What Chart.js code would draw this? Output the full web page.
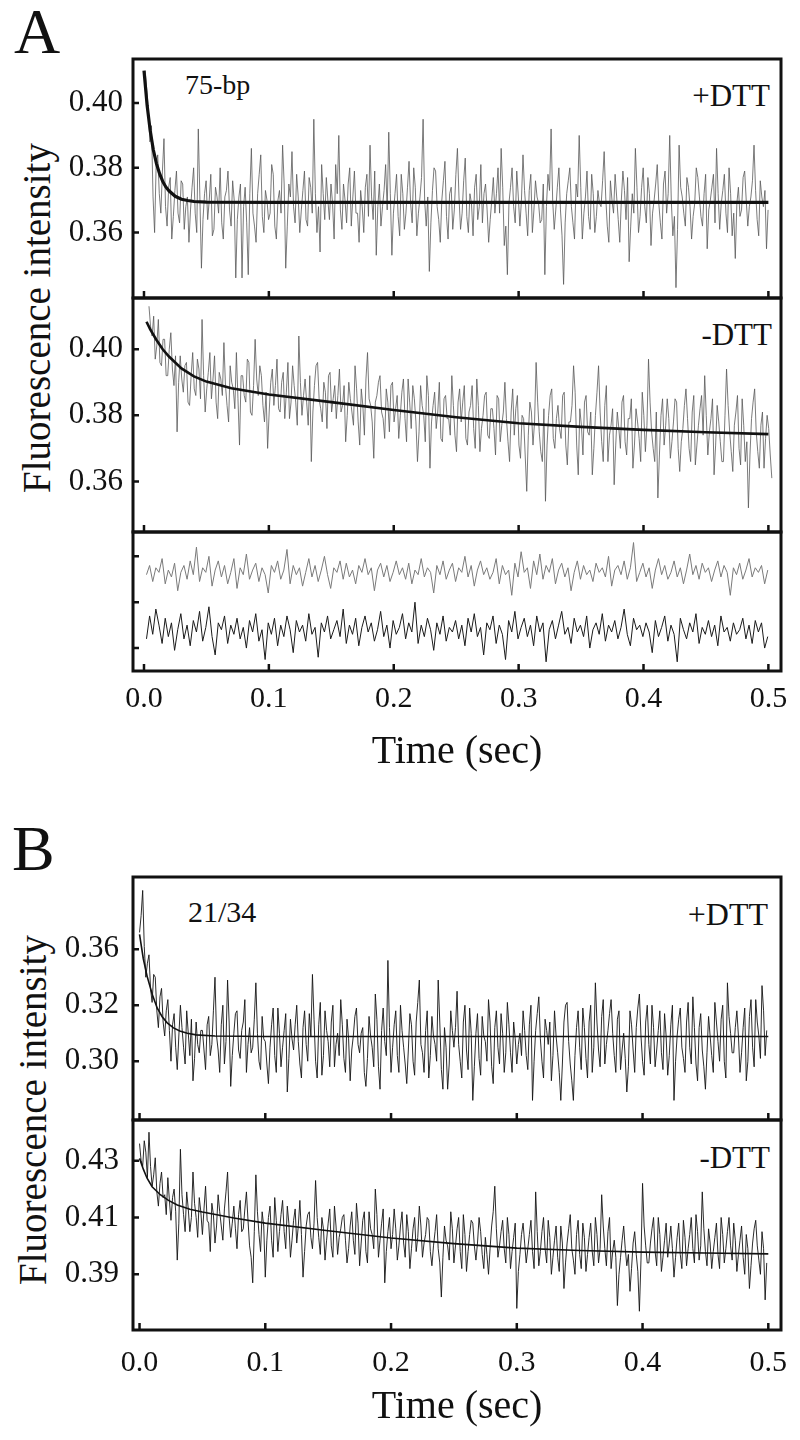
<!DOCTYPE html>
<html>
<head>
<meta charset="utf-8">
<title>Fluorescence traces</title>
<script src="https://cdn.jsdelivr.net/npm/chart.js@4.4.0/dist/chart.umd.min.js"></script>
<style>
  body { margin: 0; background: #fff; }
  #page { position: relative; width: 800px; height: 1440px; overflow: hidden;
          font-family: "Liberation Serif", "Times New Roman", serif; color: #111; }
  canvas { position: absolute; left: 0; }
  .txt { position: absolute; line-height: 1; white-space: nowrap; }
  .panel { font-size: 64px; }
  .ylab { position: absolute; line-height: 1; white-space: nowrap; font-size: 39px;
          transform: translate(-50%, -50%) rotate(-90deg); }
</style>
</head>
<body>
<div id="page">
  <div class="txt panel" style="left:14px;top:0px">A</div>
  <div class="txt panel" style="left:12px;top:817px">B</div>
  <div class="ylab" style="left:36px;top:318px">Fluorescence intensity</div>
  <div class="ylab" style="left:32px;top:1110px">Fluorescence intensity</div>
  <div class="txt" style="left:185px;top:71px;font-size:28px">75-bp</div>
  <div class="txt" style="right:30px;top:80px;font-size:31px">+DTT</div>
  <div class="txt" style="right:28px;top:319px;font-size:31px">-DTT</div>
  <div class="txt" style="left:188px;top:897px;font-size:30px">21/34</div>
  <div class="txt" style="right:32px;top:898px;font-size:32px">+DTT</div>
  <div class="txt" style="right:30px;top:1142px;font-size:31px">-DTT</div>

  <canvas id="cA1" width="800" height="300" style="top:0px"></canvas>
  <canvas id="cA2" width="800" height="250" style="top:290px"></canvas>
  <canvas id="cA3" width="800" height="260" style="top:524px"></canvas>
  <canvas id="cB1" width="800" height="270" style="top:860px"></canvas>
  <canvas id="cB2" width="800" height="328" style="top:1112px"></canvas>
</div>

<script>
// sampling steps of the recorded traces (s)
const dtTrace = 0.00125;
const dtRes = 0.0025;

const xTicks = [0, 0.1, 0.2, 0.3, 0.4, 0.5];
const xTickLabels = ['0.0', '0.1', '0.2', '0.3', '0.4', '0.5'];

const yTicksA = [0.36, 0.38, 0.40];
const yLabelsA = ['0.36', '0.38', '0.40'];
const yTicksRes = [-2, -1, 0, 1, 2];
const yLabelsRes = ['', '', '', '', ''];
const yTicksB1 = [0.30, 0.32, 0.34];
const yLabelsB1 = ['0.30', '0.32', '0.36'];
const yTicksB2 = [0.39, 0.41, 0.43];
const yLabelsB2 = ['0.39', '0.41', '0.43'];

// ---- Panel A, 75-bp (values in 1e-3 units) ----
const a1Start = 0.001;
const a1Trace = [
  410, 404, 398, 388, 393, 371, 360, 381, 384, 372, 366, 379, 389, 368, 362, 374, 377, 358, 365, 373,
  379, 366, 363, 376, 375, 361, 368, 371, 357, 367, 374, 380, 366, 360, 392, 371, 349, 364, 372, 376,
  364, 370, 378, 359, 361, 374, 371, 366, 380, 363, 358, 371, 373, 379, 367, 362, 376, 370, 346, 364,
  371, 375, 346, 368, 374, 363, 347, 372, 386, 366, 362, 357, 372, 378, 384, 365, 360, 373, 370, 364,
  366, 381, 378, 362, 358, 370, 373, 366, 387, 375, 349, 362, 375, 371, 385, 368, 363, 378, 371, 360,
  367, 373, 379, 364, 362, 377, 374, 366, 395, 372, 360, 368, 354, 381, 372, 364, 377, 370, 364, 375,
  369, 358, 381, 372, 390, 367, 361, 375, 370, 363, 375, 380, 362, 371, 379, 366, 366, 357, 373, 368,
  360, 374, 378, 365, 387, 371, 364, 379, 353, 368, 375, 362, 368, 373, 381, 367, 391, 372, 353, 366,
  372, 378, 365, 359, 378, 372, 361, 366, 374, 382, 369, 363, 380, 374, 359, 366, 371, 377, 395, 370,
  362, 371, 348, 363, 373, 380, 379, 368, 364, 357, 370, 376, 382, 365, 358, 372, 374, 361, 367, 378,
  386, 371, 361, 366, 376, 383, 365, 360, 372, 369, 359, 374, 378, 364, 368, 381, 363, 372, 375, 367,
  357, 364, 370, 377, 366, 372, 380, 366, 386, 374, 356, 362, 347, 369, 374, 380, 368, 363, 379, 371,
  362, 370, 384, 373, 366, 359, 373, 378, 360, 367, 376, 371, 369, 363, 364, 375, 347, 368, 378, 373,
  392, 370, 361, 367, 374, 380, 367, 359, 344, 363, 372, 376, 380, 368, 363, 358, 375, 371, 390, 374,
  358, 366, 371, 379, 365, 361, 378, 372, 360, 365, 373, 369, 368, 376, 385, 371, 362, 357, 376, 370,
  366, 378, 371, 364, 357, 370, 379, 373, 364, 377, 351, 362, 372, 366, 386, 374, 360, 365, 374, 380,
  368, 363, 377, 372, 356, 366, 370, 375, 381, 369, 363, 358, 375, 379, 366, 372, 390, 370, 359, 365,
  343, 361, 387, 374, 371, 366, 362, 377, 374, 368, 358, 365, 369, 380, 377, 371, 365, 362, 372, 378,
  355, 367, 370, 374, 378, 363, 386, 372, 361, 369, 373, 378, 366, 360, 380, 372, 359, 366, 352, 369,
  374, 365, 367, 377, 379, 370, 362, 368, 371, 376, 387, 373, 364, 359, 376, 371, 368, 373, 355, 367
];
const a1FitT = [0, 0.0025, 0.005, 0.0075, 0.01, 0.0125, 0.015, 0.0175, 0.02, 0.025, 0.03, 0.035, 0.04, 0.05, 0.1, 0.2, 0.3, 0.4, 0.5];
const a1FitY = [410, 399.3, 391.4, 385.5, 381.3, 378.2, 375.8, 374.1, 372.9, 371.2, 370.3, 369.9, 369.6, 369.4, 369.3, 369.3, 369.3, 369.3, 369.3];

const a2Start = 0.004;
const a2Trace = [
  413, 407, 404, 410, 397, 401, 409, 396, 395, 403, 403, 392, 392, 400, 405, 394, 389, 398, 375, 390,
  398, 391, 387, 395, 396, 384, 383, 392, 399, 388, 386, 397, 394, 385, 409, 392, 381, 388, 393, 399,
  385, 391, 398, 384, 379, 393, 391, 386, 402, 389, 383, 378, 395, 390, 388, 382, 399, 385, 371, 392,
  392, 386, 384, 397, 396, 381, 380, 389, 403, 391, 386, 395, 392, 383, 378, 387, 370, 381, 390, 394,
  383, 389, 397, 382, 381, 390, 393, 379, 387, 396, 379, 384, 395, 389, 384, 377, 404, 390, 380, 386,
  391, 384, 377, 392, 366, 381, 389, 395, 396, 385, 382, 378, 390, 387, 376, 392, 393, 381, 385, 389,
  379, 386, 394, 381, 383, 389, 372, 380, 390, 385, 381, 377, 395, 388, 378, 371, 388, 383, 374, 391,
  399, 385, 383, 378, 367, 384, 386, 390, 392, 381, 379, 373, 388, 384, 375, 389, 390, 378, 382, 386,
  373, 380, 387, 391, 379, 372, 391, 384, 376, 389, 385, 378, 366, 375, 389, 383, 380, 372, 392, 386,
  364, 378, 383, 387, 376, 381, 390, 373, 372, 385, 386, 379, 379, 374, 392, 383, 374, 369, 384, 388,
  378, 384, 389, 373, 371, 381, 383, 389, 376, 370, 391, 383, 369, 376, 380, 386, 387, 374, 373, 382,
  382, 376, 368, 386, 385, 372, 377, 381, 390, 379, 372, 366, 381, 388, 374, 382, 386, 371, 367, 380,
  379, 368, 357, 374, 384, 381, 371, 378, 396, 384, 375, 369, 366, 382, 354, 371, 380, 386, 388, 373,
  370, 379, 383, 376, 373, 386, 387, 371, 365, 378, 378, 383, 395, 387, 371, 362, 382, 377, 368, 384,
  386, 375, 374, 381, 362, 370, 380, 387, 395, 381, 372, 366, 383, 389, 366, 374, 377, 382, 359, 371,
  381, 376, 370, 384, 386, 372, 368, 379, 379, 385, 364, 371, 382, 378, 373, 366, 387, 380, 369, 377,
  397, 384, 375, 370, 366, 381, 355, 368, 380, 385, 371, 377, 385, 379, 367, 372, 378, 385, 384, 370,
  363, 372, 376, 383, 388, 379, 370, 366, 381, 386, 365, 371, 377, 382, 386, 374, 392, 380, 368, 375,
  379, 385, 362, 371, 383, 378, 372, 366, 366, 380, 394, 383, 375, 369, 363, 377, 381, 386, 370, 365,
  385, 377, 366, 372, 352, 368, 379, 384, 388, 375, 369, 364, 377, 381, 364, 373, 380, 376, 368, 361
];
const a2FitT = [0.002, 0.005, 0.01, 0.015, 0.02, 0.03, 0.04, 0.05, 0.07, 0.1, 0.15, 0.2, 0.25, 0.3, 0.35, 0.4, 0.45, 0.5];
const a2FitY = [408.3, 406, 402.8, 400, 397.8, 394.2, 391.8, 390.2, 388.2, 386.3, 384, 381.6, 379.4, 377.6, 376.5, 375.6, 374.9, 374.3];

// residuals (arbitrary units, offset traces)
const resStart = 0.002;
const resPlus = [
  1.2, 1.6, 0.9, 1.5, 1.3, 1.9, 0.8, 1.4, 1.1, 1.7, 0.5, 1.3, 1.6, 1.0, 1.8, 1.2, 2.4, 0.9, 1.5, 1.3,
  2.0, 0.7, 1.4, 1.8, 1.1, 1.6, 0.8, 1.3, 1.9, 0.6, 1.5, 1.2, 2.1, 1.0, 1.4, 1.7, 0.9, 1.5, 1.2, 0.4,
  1.6, 1.3, 1.8, 1.0, 1.4, 2.3, 0.8, 1.6, 1.2, 1.5, 0.7, 1.3, 1.9, 1.1, 1.6, 0.9, 1.4, 2.0, 1.2, 0.6,
  1.5, 1.3, 1.8, 1.0, 1.7, 1.1, 1.4, 0.8, 1.6, 1.3, 1.9, 1.2, 1.5, 0.5, 1.4, 1.7, 1.1, 1.6, 0.9, 1.3,
  1.8, 1.2, 1.5, 1.0, 1.7, 0.8, 1.4, 1.2, 1.9, 1.1, 1.5, 1.3, 0.4, 1.6, 1.2, 1.8, 1.0, 1.4, 1.7, 0.9,
  1.5, 1.3, 2.0, 1.1, 1.6, 0.7, 1.4, 1.8, 1.2, 1.5, 1.0, 1.3, 1.9, 0.8, 1.6, 1.2, 1.4, 0.3, 1.7, 1.1,
  2.2, 1.3, 1.5, 0.6, 1.8, 1.2, 2.1, 1.0, 1.6, 1.3, 1.9, 0.8, 1.4, 1.7, 1.1, 1.5, 0.5, 1.3, 1.8, 1.0,
  1.6, 1.2, 1.4, 0.9, 1.7, 1.3, 1.5, 1.1, 2.0, 0.7, 1.4, 1.6, 1.2, 1.8, 1.0, 1.5, 2.6, 0.9, 1.3, 1.7,
  1.1, 1.5, 0.6, 1.4, 1.9, 1.2, 1.6, 1.0, 1.3, 1.8, 1.1, 1.5, 0.8, 1.4, 2.1, 1.2, 1.6, 1.0, 1.7, 1.3,
  1.5, 0.9, 1.4, 1.8, 1.1, 1.6, 1.3, 0.3, 1.5, 1.2, 1.7, 1.0, 1.4, 1.9, 1.1, 1.5, 1.3, 1.6, 0.8, 1.4
];
const resMinus = [
  -1.6, -0.6, -1.4, -0.3, -1.0, -1.8, -0.7, -1.5, -0.9, -2.1, -1.2, -0.5, -1.6, -1.0, -1.9, -0.8, -1.3, -0.4, -1.7, -1.1,
  -0.2, -1.5, -2.3, -0.9, -1.2, -0.6, -1.8, -1.0, -1.4, -0.7, -1.6, -1.1, -2.0, -0.8, -1.3, -0.5, -1.7, -1.2, -2.5, -0.9,
  -1.4, -0.7, -1.9, -1.0, -1.5, -0.6, -1.2, -2.2, -0.8, -1.3, -1.0, -1.7, -0.5, -1.4, -1.1, -2.4, -0.9, -1.3, -0.6, -1.6,
  -1.2, -0.8, -1.5, -0.3, -1.8, -1.0, -1.4, -0.7, -1.9, -1.1, -0.6, -1.3, -0.9, -1.7, -1.2, -0.4, -1.5, -1.0, -2.0, -0.8,
  -1.4, -1.1, -0.5, -1.6, -0.9, -1.3, 0.0, -1.8, -1.0, -1.5, -0.7, -1.2, -2.1, -0.9, -1.4, -0.6, -1.7, -1.1, -1.3, -0.8,
  -1.6, -1.0, -1.9, -0.7, -1.3, -0.5, -1.5, -1.1, -2.3, -0.9, -1.2, -0.6, -1.8, -1.0, -1.4, -2.5, -0.8, -1.3, -0.4, -1.6,
  -1.1, -0.7, -1.5, -1.0, -1.9, -0.6, -1.3, -0.9, -2.6, -1.2, -0.8, -1.6, -1.0, -0.4, -1.4, -1.1, -1.8, -0.7, -1.3, -1.0,
  -1.5, -0.6, -2.0, -1.2, -0.9, -1.4, -0.5, -1.7, -1.0, -1.3, -0.8, -1.6, -1.1, -0.3, -1.4, -1.9, -0.7, -1.2, -1.0, -1.5,
  -0.9, -1.3, -2.2, -0.8, -1.5, -1.1, -0.6, -1.7, -1.0, -1.4, -2.6, -0.7, -1.2, -1.6, -0.9, -1.3, -0.5, -1.8, -1.1, -1.4,
  -0.8, -1.5, -1.0, -1.9, -0.6, -1.3, -1.1, -1.7, -0.9, -1.4, -1.2, -0.7, -1.6, -1.0, -1.8, -0.8, -1.3, -0.9, -2.0, -1.5
];

// ---- Panel B, 21/34 (values in 1e-3 units) ----
const bStart = 0.0;
const b1Trace = [
  346, 352, 361, 341, 330, 335, 338, 326, 321, 331, 330, 318, 312, 323, 326, 314, 309, 318, 322, 311,
  300, 313, 317, 305, 297, 309, 320, 312, 305, 299, 318, 310, 302, 315, 293, 301, 314, 306, 303, 311,
  311, 304, 297, 313, 316, 302, 306, 318, 330, 309, 304, 296, 313, 320, 299, 307, 329, 314, 291, 302,
  310, 317, 318, 304, 301, 311, 314, 322, 296, 306, 312, 303, 305, 315, 328, 310, 300, 297, 316, 308,
  307, 299, 292, 305, 313, 319, 302, 296, 319, 310, 298, 305, 311, 317, 289, 301, 315, 308, 304, 313,
  320, 307, 299, 294, 312, 318, 306, 300, 317, 309, 331, 315, 300, 294, 313, 321, 295, 302, 318, 311,
  307, 298, 314, 320, 298, 306, 310, 302, 322, 313, 301, 296, 315, 308, 293, 304, 309, 316, 319, 306,
  303, 310, 312, 296, 291, 301, 316, 309, 305, 298, 324, 315, 298, 290, 311, 319, 307, 302, 336, 312,
  296, 305, 313, 318, 302, 296, 320, 311, 305, 299, 292, 304, 317, 313, 300, 295, 314, 321, 329, 306,
  303, 296, 311, 318, 294, 302, 316, 309, 306, 300, 329, 314, 297, 290, 312, 305, 290, 299, 318, 311,
  305, 312, 325, 306, 300, 294, 314, 320, 304, 297, 319, 310, 286, 298, 310, 317, 301, 295, 316, 309,
  307, 300, 322, 314, 298, 292, 312, 318, 305, 299, 317, 310, 296, 303, 321, 313, 303, 296, 314, 308,
  299, 306, 310, 302, 318, 311, 302, 297, 313, 320, 286, 300, 311, 317, 323, 308, 300, 294, 315, 311,
  306, 314, 293, 302, 318, 309, 303, 296, 286, 299, 314, 320, 321, 307, 299, 293, 286, 302, 312, 318,
  305, 297, 319, 312, 301, 294, 314, 320, 296, 305, 328, 314, 304, 298, 316, 322, 299, 306, 311, 317,
  322, 310, 302, 296, 315, 318, 297, 304, 310, 301, 289, 298, 318, 313, 304, 296, 312, 319, 324, 309,
  300, 295, 314, 320, 306, 299, 320, 312, 298, 304, 311, 318, 303, 297, 317, 309, 295, 302, 313, 320,
  286, 300, 309, 315, 319, 305, 301, 296, 314, 321, 305, 299, 323, 312, 299, 293, 312, 317, 304, 298,
  290, 303, 316, 309, 302, 296, 321, 314, 307, 300, 315, 320, 300, 294, 328, 316, 310, 303, 303, 312,
  318, 309, 296, 303, 312, 319, 293, 300, 316, 322, 305, 298, 322, 314, 309, 301, 327, 318, 302, 311
];
const b1FitT = [0, 0.003, 0.006, 0.01, 0.014, 0.018, 0.022, 0.027, 0.032, 0.038, 0.045, 0.06, 0.1, 0.2, 0.3, 0.4, 0.5];
const b1FitY = [345.3, 336.6, 330.4, 324, 319, 315.9, 313.7, 311.9, 310.8, 310, 309.4, 309, 308.8, 308.8, 308.8, 308.8, 308.8];

const b2Trace = [
  436, 430, 428, 437, 433, 424, 440, 428, 421, 425, 431, 419, 414, 422, 426, 417, 418, 411, 424, 416,
  409, 417, 420, 412, 395, 408, 434, 418, 411, 405, 419, 413, 405, 410, 426, 415, 410, 403, 417, 412,
  404, 413, 421, 409, 408, 398, 415, 411, 401, 407, 418, 412, 407, 402, 413, 419, 426, 410, 403, 408,
  414, 406, 399, 411, 416, 405, 406, 413, 419, 409, 400, 396, 387, 405, 425, 412, 404, 398, 412, 407,
  389, 402, 410, 414, 402, 396, 417, 409, 398, 405, 411, 416, 405, 399, 414, 408, 396, 402, 409, 413,
  401, 407, 416, 404, 389, 398, 407, 411, 412, 403, 399, 408, 423, 410, 403, 397, 410, 406, 395, 402,
  408, 413, 400, 396, 414, 407, 397, 403, 406, 410, 411, 402, 394, 399, 407, 412, 402, 397, 415, 408,
  393, 401, 409, 412, 398, 394, 412, 406, 404, 399, 420, 411, 396, 402, 408, 413, 387, 398, 405, 410,
  399, 404, 413, 406, 395, 400, 407, 412, 401, 396, 411, 405, 392, 399, 406, 410, 398, 403, 414, 407,
  396, 401, 404, 410, 409, 398, 393, 400, 405, 411, 399, 394, 382, 396, 407, 402, 400, 395, 412, 406,
  394, 400, 406, 410, 398, 392, 411, 404, 391, 398, 404, 409, 408, 400, 395, 401, 410, 405, 397, 392,
  403, 397, 390, 399, 407, 412, 421, 406, 396, 400, 405, 409, 399, 394, 410, 404, 392, 398, 403, 408,
  378, 391, 397, 404, 408, 401, 394, 399, 404, 409, 398, 392, 419, 405, 393, 398, 405, 410, 399, 394,
  409, 403, 390, 396, 402, 407, 396, 391, 407, 401, 385, 394, 401, 406, 411, 399, 395, 390, 404, 409,
  397, 392, 408, 403, 391, 397, 403, 408, 398, 393, 410, 404, 394, 399, 418, 407, 399, 393, 405, 410,
  392, 398, 402, 396, 379, 390, 396, 402, 407, 399, 393, 397, 384, 392, 401, 405, 397, 391, 377, 395,
  422, 407, 400, 394, 394, 401, 406, 410, 398, 393, 410, 404, 391, 396, 402, 408, 396, 401, 407, 399,
  389, 396, 403, 408, 397, 392, 409, 403, 393, 399, 404, 410, 399, 394, 411, 405, 395, 400, 419, 406,
  398, 393, 406, 401, 392, 398, 403, 408, 397, 392, 410, 404, 394, 399, 405, 410, 400, 395, 408, 402,
  391, 397, 402, 407, 396, 390, 404, 399, 385, 393, 401, 406, 409, 400, 395, 390, 405, 399, 381, 394
];
const b2FitT = [0, 0.003, 0.006, 0.01, 0.0165, 0.023, 0.03, 0.04, 0.05, 0.075, 0.1, 0.15, 0.2, 0.25, 0.3, 0.35, 0.4, 0.45, 0.5];
const b2FitY = [430.8, 427, 423.8, 420.8, 418, 416, 414.4, 412.9, 411.9, 409.8, 408, 405.3, 402.8, 400.8, 399.2, 398.4, 397.8, 397.5, 397.2];

const MILLI = 0.001;

function sampled(values, start, step, unit) {
  return values.map((v, i) => ({ x: start + i * step, y: v * unit }));
}
function pairs(ts, ys, unit) {
  return ts.map((t, i) => ({ x: t, y: ys[i] * unit }));
}

Chart.defaults.font.family = '"Liberation Serif", "Times New Roman", serif';
Chart.defaults.color = '#111';

// box around the plot area plus inward tick marks
const framePlugin = {
  id: 'frame',
  afterDatasetsDraw(chart) {
    const { ctx, chartArea: a, scales } = chart;
    ctx.save();
    ctx.strokeStyle = '#111';
    ctx.lineWidth = 2.5;
    ctx.beginPath();
    scales.x.ticks.forEach(t => {
      const px = scales.x.getPixelForValue(t.value);
      ctx.moveTo(px, a.bottom);
      ctx.lineTo(px, a.bottom - 7);
    });
    scales.y.ticks.forEach(t => {
      const py = scales.y.getPixelForValue(t.value);
      ctx.moveTo(a.left, py);
      ctx.lineTo(a.left + 6, py);
    });
    ctx.stroke();
    ctx.lineWidth = 3;
    ctx.strokeRect(a.left, a.top, a.right - a.left, a.bottom - a.top);
    ctx.restore();
  }
};

function traceSet(data, color, width) {
  return { data: data, borderColor: color, borderWidth: width, pointRadius: 0, tension: 0, fill: false };
}

function makeChart(id, o) {
  return new Chart(document.getElementById(id), {
    type: 'line',
    data: { datasets: o.datasets },
    options: {
      responsive: false,
      animation: false,
      devicePixelRatio: 1,
      events: [],
      layout: { padding: { left: 0, right: 19, top: o.padTop, bottom: 0 } },
      plugins: { legend: { display: false }, tooltip: { enabled: false } },
      scales: {
        x: {
          type: 'linear',
          min: o.xMin,
          max: o.xMax,
          afterBuildTicks: s => { s.ticks = xTicks.map(v => ({ value: v })); },
          afterFit: s => { s.height = o.xHeight; s.paddingLeft = 0; s.paddingRight = 0; },
          grid: { display: false, drawTicks: false },
          border: { display: false },
          ticks: {
            display: o.showX,
            padding: o.xPad || 0,
            autoSkip: false,
            maxRotation: 0,
            font: { size: 30 },
            color: '#111',
            callback: (v, i) => xTickLabels[i]
          },
          title: {
            display: o.showX,
            text: 'Time (sec)',
            color: '#111',
            font: { size: 40 },
            padding: { top: o.titlePad || 0, bottom: o.titlePad || 0 }
          }
        },
        y: {
          type: 'linear',
          min: o.yMin,
          max: o.yMax,
          afterBuildTicks: s => { s.ticks = o.yTicks.map(v => ({ value: v })); },
          afterFit: s => { s.width = 133; s.paddingTop = 0; s.paddingBottom = 0; },
          grid: { display: false, drawTicks: false },
          border: { display: false },
          ticks: {
            padding: o.yPad,
            font: { size: 31 },
            color: '#111',
            callback: (v, i) => o.yLabels[i]
          }
        }
      }
    },
    plugins: [framePlugin]
  });
}

// Panel A
makeChart('cA1', {
  padTop: 59, xHeight: 2, showX: false,
  xMin: -0.0088, xMax: 0.5101,
  yMin: 0.3398, yMax: 0.4136, yTicks: yTicksA, yLabels: yLabelsA, yPad: 10,
  datasets: [
    traceSet(pairs(a1FitT, a1FitY, MILLI), '#111', 3.2),
    traceSet(sampled(a1Trace, a1Start, dtTrace, MILLI), '#595959', 0.8)
  ]
});
makeChart('cA2', {
  padTop: 8, xHeight: 8, showX: false,
  xMin: -0.0088, xMax: 0.5101,
  yMin: 0.3447, yMax: 0.4155, yTicks: yTicksA, yLabels: yLabelsA, yPad: 10,
  datasets: [
    traceSet(pairs(a2FitT, a2FitY, MILLI), '#111', 2.6),
    traceSet(sampled(a2Trace, a2Start, dtTrace, MILLI), '#595959', 0.8)
  ]
});
makeChart('cA3', {
  padTop: 8, xHeight: 113, showX: true, xPad: 10, titlePad: 8,
  xMin: -0.0088, xMax: 0.5101,
  yMin: -3.0, yMax: 3.06, yTicks: yTicksRes, yLabels: yLabelsRes, yPad: 10,
  datasets: [
    traceSet(sampled(resPlus, resStart, dtRes, 1), '#7a7a7a', 1),
    traceSet(sampled(resMinus, resStart, dtRes, 1), '#1a1a1a', 1)
  ]
});

// Panel B
makeChart('cB1', {
  padTop: 17, xHeight: 10, showX: false,
  xMin: -0.0052, xMax: 0.5101,
  yMin: 0.279, yMax: 0.3658, yTicks: yTicksB1, yLabels: yLabelsB1, yPad: 14,
  datasets: [
    traceSet(pairs(b1FitT, b1FitY, MILLI), '#111', 1.6),
    traceSet(sampled(b1Trace, bStart, dtTrace, MILLI), '#141414', 0.9)
  ]
});
makeChart('cB2', {
  padTop: 8, xHeight: 110, showX: true, xPad: 15, titlePad: 9,
  xMin: -0.0052, xMax: 0.5101,
  yMin: 0.3704, yMax: 0.4443, yTicks: yTicksB2, yLabels: yLabelsB2, yPad: 14,
  datasets: [
    traceSet(pairs(b2FitT, b2FitY, MILLI), '#111', 1.6),
    traceSet(sampled(b2Trace, bStart, dtTrace, MILLI), '#141414', 0.9)
  ]
});
</script>
</body>
</html>
